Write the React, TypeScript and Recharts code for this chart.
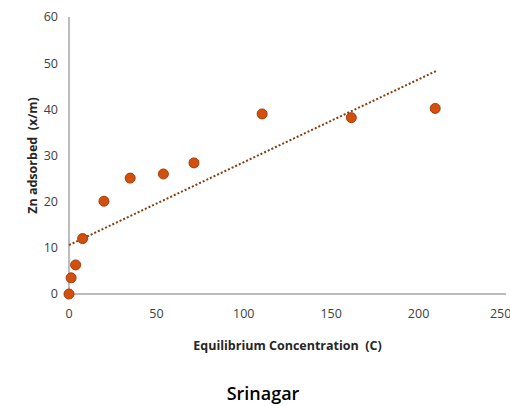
import { ScatterChart, Scatter, XAxis, YAxis, Label } from "recharts";

// equilibrium concentration (C) vs Zn adsorbed (x/m)
const concentration = [0, 1.2, 3.8, 7.8, 20, 35, 54, 71.5, 110.5, 161.5, 209.5];
const adsorbed = [0, 3.5, 6.3, 12, 20.1, 25.1, 26, 28.4, 39, 38.2, 40.2];

// linear trendline end points
const trendX = [0, 210];
const trendY = [10.6, 48.3];

const xTicks = [0, 50, 100, 150, 200, 250];
const yTicks = [0, 10, 20, 30, 40, 50, 60];

const points = concentration.map((x, i) => ({ x, y: adsorbed[i] }));
const trend = trendX.map((x, i) => ({ x, y: trendY[i] }));

const font = "'Open Sans', sans-serif";

const Dot = (props: any) => (
  <circle cx={props.cx} cy={props.cy} r={5} fill="#D24F0E" stroke="#A53C08" strokeWidth={1} />
);

export default function App() {
  return (
    <div style={{ position: "absolute", left: 0, top: 0, width: 510, height: 406, background: "#fff" }}>
      <ScatterChart
        width={510}
        height={406}
        margin={{ top: 17, right: 4, bottom: 56, left: 0 }}
        style={{ fontFamily: font }}
      >
        <XAxis
          type="number"
          dataKey="x"
          domain={[0, 250]}
          ticks={xTicks}
          height={56}
          axisLine={{ stroke: "#A6A6A6", strokeWidth: 1.5 }}
          tickLine={false}
          tickSize={6}
          tickMargin={9}
          tick={{ fill: "#404040", fontSize: 12.5, fontFamily: font }}
        >
          <Label
            content={({ viewBox }: any) => {
              const cx = viewBox.x + viewBox.width / 2;
              return (
                <text
                  x={cx}
                  y={345}
                  textAnchor="middle"
                  dominantBaseline="central"
                  fill="#262626"
                  fontSize={12.5}
                  fontWeight={700}
                  fontFamily={font}
                  xmlSpace="preserve"
                >
                  {"Equilibrium Concentration  (C)"}
                </text>
              );
            }}
          />
        </XAxis>
        <YAxis
          type="number"
          dataKey="y"
          domain={[0, 60]}
          ticks={yTicks}
          width={69}
          axisLine={{ stroke: "#A6A6A6", strokeWidth: 1.5 }}
          tickLine={false}
          tickSize={6}
          tickMargin={5}
          tick={{ fill: "#404040", fontSize: 12.5, fontFamily: font }}
        >
          <Label
            content={({ viewBox }: any) => {
              const cy = viewBox.y + viewBox.height / 2;
              return (
                <text
                  x={32}
                  y={cy}
                  transform={`rotate(-90 32 ${cy})`}
                  textAnchor="middle"
                  dominantBaseline="central"
                  fill="#262626"
                  fontSize={12.5}
                  fontWeight={700}
                  fontFamily={font}
                  xmlSpace="preserve"
                >
                  {"Zn adsorbed  (x/m)"}
                </text>
              );
            }}
          />
        </YAxis>
        <Scatter
          data={trend}
          line={{ stroke: "#843C0C", strokeWidth: 2, strokeDasharray: "2 2" }}
          shape={() => <g />}
          isAnimationActive={false}
        />
        <Scatter data={points} shape={Dot} isAnimationActive={false} />
      </ScatterChart>
      <div
        style={{
          position: "absolute",
          left: 0,
          width: 526,
          top: 384,
          textAlign: "center",
          fontFamily: font,
          fontSize: 18,
          fontWeight: 600,
          lineHeight: "18px",
          color: "#000",
        }}
      >
        Srinagar
      </div>
    </div>
  );
}
